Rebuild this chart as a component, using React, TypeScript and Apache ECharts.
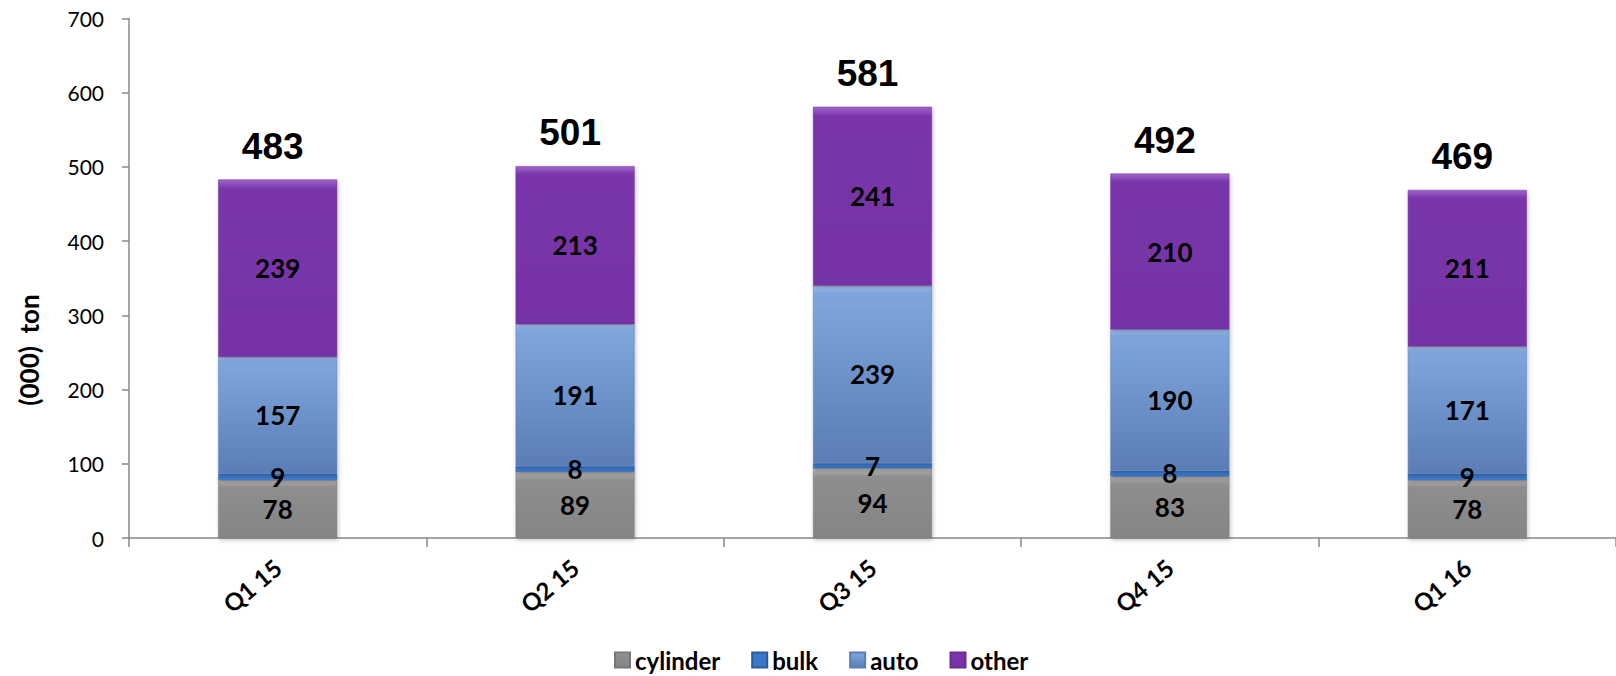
import React, { useEffect, useRef } from "react";
import * as echarts from "echarts";

const categories = ["Q1 15", "Q2 15", "Q3 15", "Q4 15", "Q1 16"];
const cylinder = [78, 89, 94, 83, 78];
const bulk = [9, 8, 7, 8, 9];
const auto = [157, 191, 239, 190, 171];
const other = [239, 213, 241, 210, 211];
const totals = [483, 501, 581, 492, 469];
const yTicks = [0, 100, 200, 300, 400, 500, 600, 700];

const grad = (stops: [number, string][]) =>
  new echarts.graphic.LinearGradient(
    0,
    0,
    0,
    1,
    stops.map(([offset, color]) => ({ offset, color }))
  );

export default function App() {
  const ref = useRef<HTMLDivElement>(null);
  useEffect(() => {
    if (!ref.current) return;
    const chart = echarts.init(ref.current, undefined, { renderer: "svg" });
    const innerLabel = {
      show: true,
      position: "inside" as const,
      color: "#000",
      fontFamily: "Lato",
      fontWeight: "bold" as const,
      fontSize: 26,
    };
    const shadow = { shadowColor: "rgba(0,0,0,0.25)", shadowBlur: 4, shadowOffsetX: 1, shadowOffsetY: 2 };
    const barCommon = {
      type: "bar" as const,
      stack: "s",
      barWidth: "40%",
      label: innerLabel,
    };
    chart.setOption({
      animation: false,
      grid: { left: 129, right: -8, top: 18.5, bottom: 138, containLabel: false },
      legend: {
        data: ["cylinder", "bulk", "auto", "other"],
        bottom: 4,
        left: 614,
        padding: 0,
        icon: "rect",
        itemWidth: 15,
        itemHeight: 15,
        itemGap: 31,
        textStyle: { fontFamily: "Lato", fontWeight: "bold", fontSize: 24, color: "#000" },
      },
      xAxis: {
        type: "category",
        data: categories,
        axisLine: { lineStyle: { color: "#888", width: 1.5 } },
        axisTick: { show: true, length: 9, lineStyle: { color: "#888", width: 1.5 } },
        axisLabel: {
          rotate: 40,
          margin: 26,
          color: "#000",
          fontFamily: "Lato",
          fontWeight: "bold",
          fontSize: 24,
        },
      },
      yAxis: {
        type: "value",
        min: yTicks[0],
        max: yTicks[yTicks.length - 1],
        interval: 100,
        splitLine: { show: false },
        axisLine: { show: true, lineStyle: { color: "#888", width: 1.5 } },
        axisTick: { show: true, length: 7, lineStyle: { color: "#888", width: 1.5 } },
        axisLabel: { color: "#000", fontFamily: "Lato", fontSize: 21, margin: 25 },
      },
      graphic: [
        {
          type: "text",
          x: 29,
          y: 350,
          rotation: Math.PI / 2,
          style: {
            text: "(000)  ton",
            fill: "#000",
            font: "bold 26px Lato",
            align: "center",
            verticalAlign: "middle",
          },
        },
      ],
      series: [
        {
          ...barCommon,
          name: "cylinder",
          data: cylinder,
          itemStyle: {
            color: grad([[0, "#b8b8b8"], [0.12, "#8e8e8e"], [1, "#858585"]]),
            borderColor: "#777",
            borderWidth: 0.5,
            ...shadow,
          },
        },
        {
          ...barCommon,
          name: "bulk",
          data: bulk,
          itemStyle: { color: "#3a78cc", borderColor: "#2a5a9c", borderWidth: 0.5, ...shadow },
        },
        {
          ...barCommon,
          name: "auto",
          data: auto,
          itemStyle: {
            color: grad([[0, "#a9c6ef"], [0.04, "#7ea6dd"], [1, "#5a7db5"]]),
            borderColor: "#5a7db5",
            borderWidth: 0.5,
            ...shadow,
          },
        },
        {
          ...barCommon,
          name: "other",
          data: other,
          itemStyle: {
            color: grad([[0, "#a066cc"], [0.05, "#7a36ab"], [1, "#7532a5"]]),
            borderColor: "#6a2c96",
            borderWidth: 0.5,
            ...shadow,
          },
        },
        {
          type: "bar",
          name: "total",
          stack: "s",
          barWidth: "40%",
          data: totals.map(() => 0),
          itemStyle: { color: "transparent" },
          label: {
            show: true,
            position: "top",
            distance: 15,
            offset: [-5, 0],
            formatter: (p: any) => String(totals[p.dataIndex]),
            color: "#000",
            fontFamily: "Liberation Sans",
            fontWeight: "bold",
            fontSize: 37,
          },
        },
      ],
    });
    return () => chart.dispose();
  }, []);
  return (
    <div
      ref={ref}
      style={{ position: "absolute", left: 0, top: 0, width: 1616, height: 676 }}
    />
  );
}
